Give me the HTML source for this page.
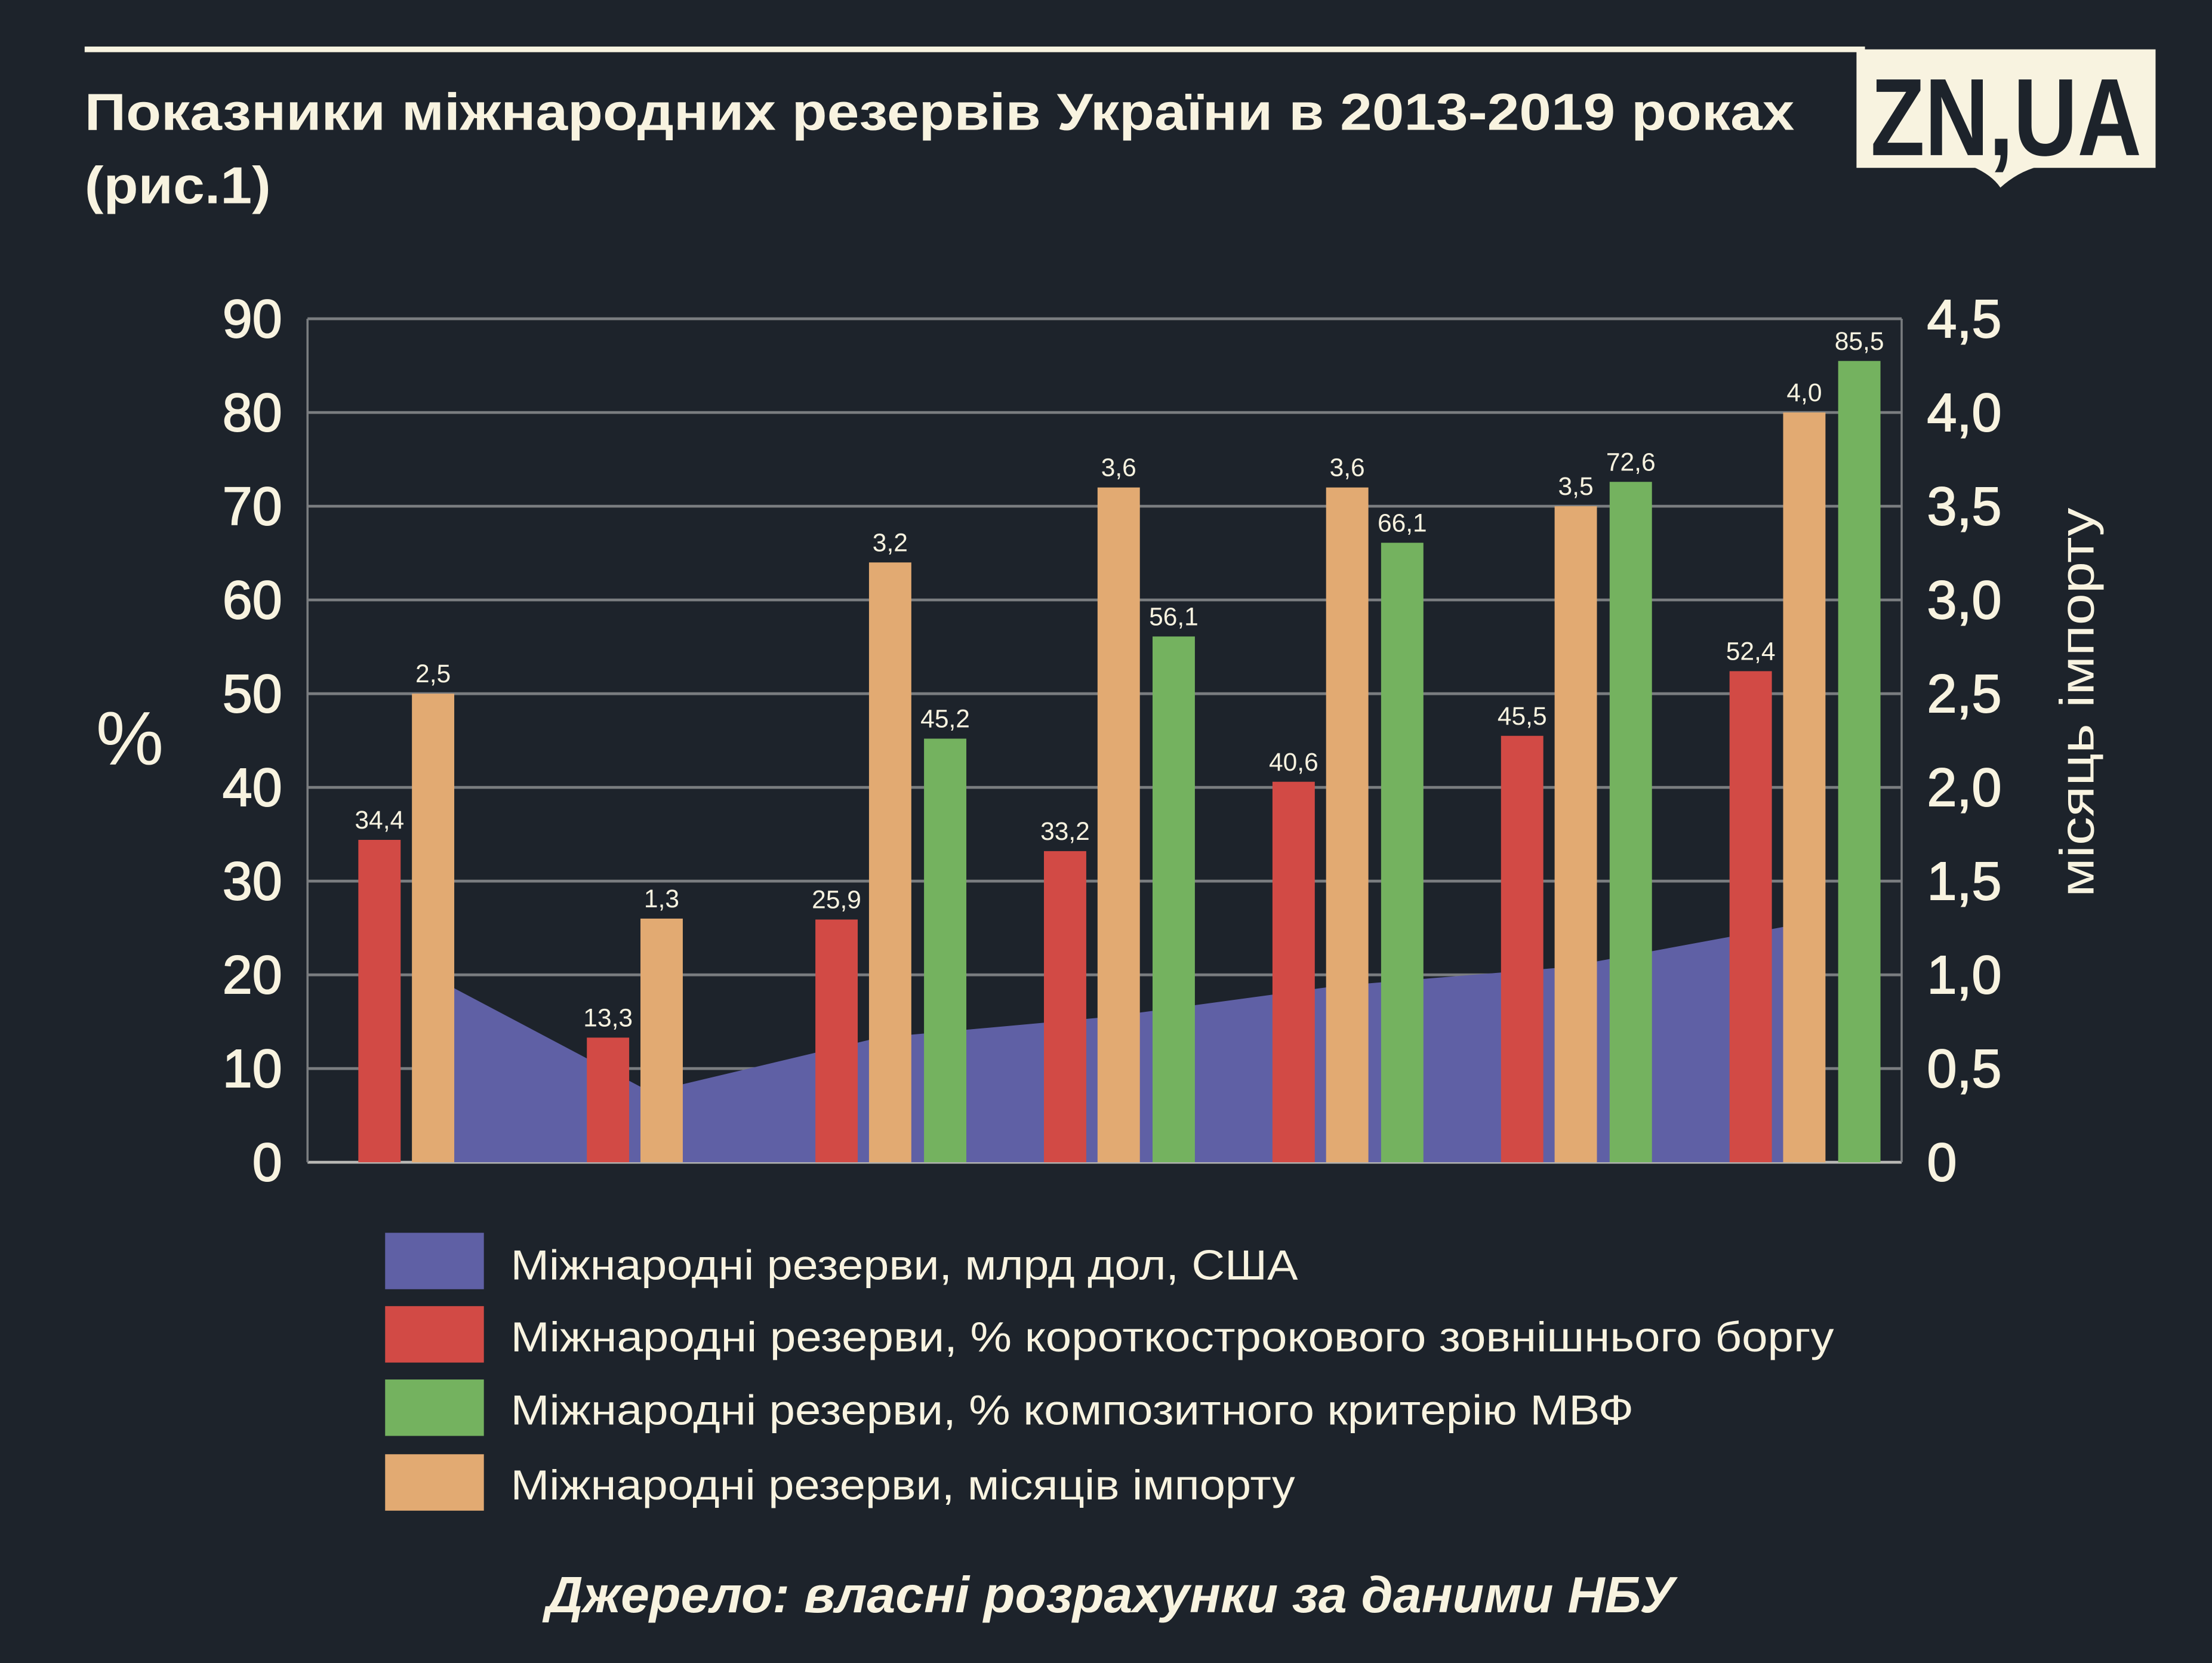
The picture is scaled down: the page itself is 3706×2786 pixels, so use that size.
<!DOCTYPE html>
<html><head><meta charset="utf-8"><style>
html,body{margin:0;padding:0;background:#1d232b;}
svg{display:block;}
text{font-family:"Liberation Sans","DejaVu Sans",sans-serif;}
</style></head><body>
<svg id="chart" width="3706" height="2786" viewBox="0 0 1568 1179" preserveAspectRatio="none" xmlns="http://www.w3.org/2000/svg">
<rect x="0" y="0" width="1568" height="1179" fill="#1d232b"/>
<rect x="60" y="33" width="1262" height="4" fill="#f8f3e0"/>
<text x="60" y="92" font-size="37" font-weight="bold" fill="#f8f3e0" textLength="1212" lengthAdjust="spacingAndGlyphs">Показники міжнародних резервів України в 2013-2019 роках</text>
<text x="60" y="144" font-size="37" font-weight="bold" fill="#f8f3e0" textLength="132" lengthAdjust="spacingAndGlyphs">(рис.1)</text>
<g>
<rect x="1316" y="35" width="212" height="84" fill="#f8f3e0"/>
<path d="M1398 118 L1445 118 Q1430 122 1418 133 Q1412 124 1398 118 Z" fill="#f8f3e0"/>
<text x="1326" y="110" font-size="78" font-weight="bold" fill="#1d232b" textLength="192" lengthAdjust="spacingAndGlyphs">ZN,UA</text>
</g>
<g id="grid"></g>
<g id="area"></g>
<g id="bars"></g>
<g id="labels"></g>
<g id="axes"></g>
<text x="92" y="542" font-size="54" fill="#f8f3e0" text-anchor="middle">%</text>
<text transform="translate(1484,498) rotate(-90)" font-size="34" fill="#f8f3e0" text-anchor="middle" textLength="276" lengthAdjust="spacingAndGlyphs">місяць імпорту</text>
<g>
<g><rect x="273" y="874" width="70" height="40" fill="#5f60a5"/><text x="362" y="907" font-size="30" fill="#f8f3e0" textLength="558" lengthAdjust="spacingAndGlyphs">Міжнародні резерви, млрд дол, США</text></g>
<g><rect x="273" y="926" width="70" height="40" fill="#d24a45"/><text x="362" y="958" font-size="30" fill="#f8f3e0" textLength="938" lengthAdjust="spacingAndGlyphs">Міжнародні резерви, % короткострокового зовнішнього боргу</text></g>
<g><rect x="273" y="978" width="70" height="40" fill="#74b25f"/><text x="362" y="1010" font-size="30" fill="#f8f3e0" textLength="796" lengthAdjust="spacingAndGlyphs">Міжнародні резерви, % композитного критерію МВФ</text></g>
<g><rect x="273" y="1031" width="70" height="40" fill="#e2aa72"/><text x="362" y="1063" font-size="30" fill="#f8f3e0" textLength="556" lengthAdjust="spacingAndGlyphs">Міжнародні резерви, місяців імпорту</text></g>
</g>
<text x="787" y="1143" font-size="36" font-weight="bold" font-style="italic" fill="#f8f3e0" text-anchor="middle" textLength="800" lengthAdjust="spacingAndGlyphs">Джерело: власні розрахунки за даними НБУ</text>
</svg>
<script>
const years = ['2013','2014','2015','2016','2017','2018','2019'];
const reservesBn = [20.4, 7.5, 13.3, 15.5, 18.8, 20.8, 25.3];
const shortDebtPct = [34.4, 13.3, 25.9, 33.2, 40.6, 45.5, 52.4];
const imfPct = [null, null, 45.2, 56.1, 66.1, 72.6, 85.5];
const importMonths = [2.5, 1.3, 3.2, 3.6, 3.6, 3.5, 4.0];
const leftTicks = ['0','10','20','30','40','50','60','70','80','90'];
const rightTicks = ['0','0,5','1,0','1,5','2,0','2,5','3,0','3,5','4,0','4,5'];

const NS = 'http://www.w3.org/2000/svg';
const X0 = 218, X1 = 1348, Y0 = 824, YT = 226;
const band = (1352 - X0) / years.length;
const yL = v => Y0 - (v / 90) * (Y0 - YT);
const yR = v => Y0 - (v / 4.5) * (Y0 - YT);
const xC = i => X0 + band * (i + 0.5);
const fmt = v => v.toFixed(1).replace('.', ',');
function mk(tag, attrs, parent) {
  const e = document.createElementNS(NS, tag);
  for (const k in attrs) e.setAttribute(k, attrs[k]);
  parent.appendChild(e);
  return e;
}
const grid = document.getElementById('grid');
const axes = document.getElementById('axes');
leftTicks.forEach((t, i) => {
  const v = i * 10;
  const l = mk('line', {x1: X0, x2: X1, y1: yL(v), y2: yL(v), stroke: i === 0 ? '#b8b8b4' : '#7a7d80', 'stroke-width': 2}, grid);
  
  
  const tx = mk('text', {x: 200, y: yL(v) + 13, 'font-size': 38, fill: '#f8f3e0', 'text-anchor': 'end', stroke: '#f8f3e0', 'stroke-width': 0.8}, axes);
  tx.textContent = t;
  
  
});
rightTicks.forEach((t, i) => {
  const v = i * 0.5;
  const tx = mk('text', {x: 1366, y: yR(v) + 13, 'font-size': 38, fill: '#f8f3e0', stroke: '#f8f3e0', 'stroke-width': 0.8}, axes);
  tx.textContent = t;
  
  
});
[X0, X1].forEach(x => {
  const l = mk('line', {x1: x, x2: x, y1: YT, y2: Y0, stroke: '#7a7d80', 'stroke-width': 1.5}, grid);
  
  
});
// area
let d = 'M' + xC(0) + ' ' + Y0;
reservesBn.forEach((v, i) => { d += ' L' + xC(i) + ' ' + yL(v); });
d += ' L' + xC(years.length - 1) + ' ' + Y0 + ' Z';
const ap = mk('path', {d: d, fill: '#5f60a5'}, document.getElementById('area'));


// bars
const bars = document.getElementById('bars');
const labels = document.getElementById('labels');
const W = 30;
const series = [
  {vals: shortDebtPct, off: -30, color: '#d24a45', y: yL, name: 'bar-short-debt'},
  {vals: importMonths, off: 8, color: '#e2aa72', y: yR, name: 'bar-import-months'},
  {vals: imfPct, off: 47, color: '#74b25f', y: yL, name: 'bar-imf'}
];
series.forEach(s => {
  s.vals.forEach((v, i) => {
    if (v === null) return;
    const cx = xC(i) + s.off;
    const top = s.y(v);
    const r = mk('rect', {x: cx - W / 2, y: top, width: W, height: Y0 - top, fill: s.color}, bars);
    
    
    const t = mk('text', {x: cx, y: top - 8, 'font-size': 18, fill: '#f8f3e0', 'text-anchor': 'middle'}, labels);
    t.textContent = fmt(v);
    
    
  });
});
</script>
</body></html>
